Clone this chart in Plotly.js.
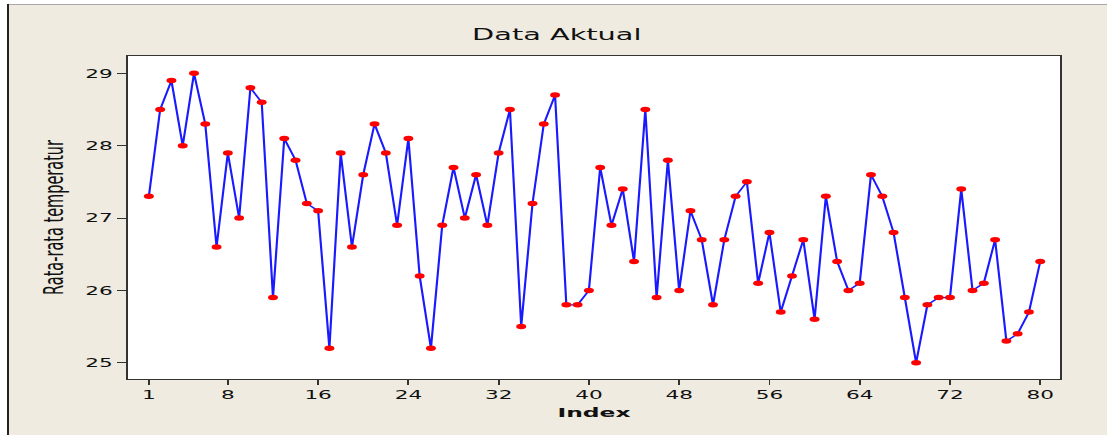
<!DOCTYPE html>
<html>
<head>
<meta charset="utf-8">
<script src="https://cdn.plot.ly/plotly-3.0.1.min.js"></script>
<style>
  html, body { margin: 0; padding: 0; background: #ffffff; overflow: hidden; }
  #wrap { position: absolute; left: 0; top: 0; width: 1107px; height: 435px; background: #EFEBE0; overflow: hidden; }
  #chart { position: absolute; left: 0; top: 0; width: 615px; height: 435px; transform: scaleX(1.8); transform-origin: 0 0; }
  .edgeL { position: absolute; left: 0; top: 0; width: 7px; height: 435px; background: #ffffff; }
  .edgeL2 { position: absolute; left: 7px; top: 4px; width: 2px; height: 431px; background: #222222; }
  .edgeT { position: absolute; left: 0; top: 0; width: 1107px; height: 4px; background: #ffffff; }
  .edgeT2 { position: absolute; left: 7px; top: 4px; width: 1100px; height: 1px; background: #a8a8a8; }
</style>
</head>
<body>
<div id="wrap">
  <div id="chart"></div>
  <div class="edgeT"></div>
  <div class="edgeL"></div>
  <div class="edgeT2"></div>
  <div class="edgeL2"></div>
</div>
<script>
// Data
const index = Array.from({length: 80}, (_, i) => i + 1);
const temperature = [
  27.3, 28.5, 28.9, 28.0, 29.0, 28.3, 26.6, 27.9, 27.0, 28.8,
  28.6, 25.9, 28.1, 27.8, 27.2, 27.1, 25.2, 27.9, 26.6, 27.6,
  28.3, 27.9, 26.9, 28.1, 26.2, 25.2, 26.9, 27.7, 27.0, 27.6,
  26.9, 27.9, 28.5, 25.5, 27.2, 28.3, 28.7, 25.8, 25.8, 26.0,
  27.7, 26.9, 27.4, 26.4, 28.5, 25.9, 27.8, 26.0, 27.1, 26.7,
  25.8, 26.7, 27.3, 27.5, 26.1, 26.8, 25.7, 26.2, 26.7, 25.6,
  27.3, 26.4, 26.0, 26.1, 27.6, 27.3, 26.8, 25.9, 25.0, 25.8,
  25.9, 25.9, 27.4, 26.0, 26.1, 26.7, 25.3, 25.4, 25.7, 26.4
];
const xTickVals = [1, 8, 16, 24, 32, 40, 48, 56, 64, 72, 80];
const yTickVals = [25, 26, 27, 28, 29];

const trace = {
  x: index,
  y: temperature,
  type: 'scatter',
  mode: 'lines+markers',
  line: { color: '#1a1aff', width: 1.2 },
  marker: { color: '#ff0000', size: 5.5, line: { width: 0 } },
  hoverinfo: 'skip'
};

const layout = {
  width: 615,
  height: 435,
  margin: { l: 70.5, r: 25.6, t: 56, b: 56 },
  paper_bgcolor: 'rgba(0,0,0,0)',
  plot_bgcolor: '#ffffff',
  showlegend: false,
  title: {
    text: 'Data Aktual',
    font: { family: 'DejaVu Sans', size: 16, color: '#111111' },
    x: 0.503, xref: 'container', xanchor: 'center',
    y: 1 - 34 / 435, yref: 'container', yanchor: 'middle'
  },
  xaxis: {
    range: [-0.867, 81.77],
    tickmode: 'array',
    tickvals: xTickVals,
    ticktext: xTickVals.map(String),
    ticks: 'outside', ticklen: 5, tickwidth: 1, tickcolor: '#333333',
    showgrid: false, zeroline: false,
    showline: true, mirror: true, linecolor: '#333333', linewidth: 1,
    tickfont: { family: 'DejaVu Sans', size: 12, color: '#111111' },
    title: { text: '<b>Index</b>', font: { family: 'DejaVu Sans', size: 13, color: '#111111' }, standoff: 6 },
    automargin: false
  },
  yaxis: {
    range: [24.775, 29.24],
    tickmode: 'array',
    tickvals: yTickVals,
    ticktext: yTickVals.map(String),
    ticks: 'outside', ticklen: 5, tickwidth: 1, tickcolor: '#333333',
    showgrid: false, zeroline: false,
    showline: true, mirror: true, linecolor: '#333333', linewidth: 1,
    tickfont: { family: 'DejaVu Sans', size: 12, color: '#111111' },
    title: { text: 'Rata-rata temperatur', font: { family: 'DejaVu Sans', size: 14.5, color: '#111111' }, standoff: 8 },
    automargin: false
  }
};

Plotly.newPlot('chart', [trace], layout, { staticPlot: true, displayModeBar: false });
</script>
</body>
</html>
